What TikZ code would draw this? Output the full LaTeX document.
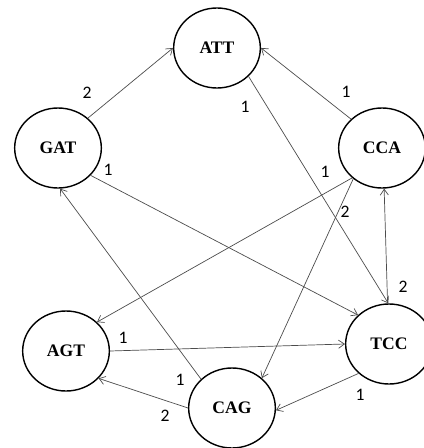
\documentclass[tikz,border=0pt]{standalone}
\usepackage{fontspec}
\setmainfont{Liberation Serif}
\newfontfamily\wtfont{Carlito}
\usetikzlibrary{shapes.geometric,arrows.meta}
\begin{document}
\begin{tikzpicture}[x=0.03cm,y=-0.03cm,
  seq/.style={draw,ellipse,line width=1.2pt,minimum width=2.6cm,minimum height=2.4cm,inner sep=0pt,font=\fontsize{15}{15}\selectfont\bfseries},
  link/.style={-{Straight Barb[length=5pt,width=7pt]},draw=black!70,line width=0.6pt},
  wt/.style={font=\wtfont\fontsize{15}{15}\selectfont,inner sep=0pt}]
\useasboundingbox (0,0) rectangle (424,448);

\node[seq] (ATT) at (217,48) {ATT};
\node[seq] (GAT) at (58,148) {GAT};
\node[seq] (CCA) at (382,148) {CCA};
\node[seq] (AGT) at (66,351) {AGT};
\node[seq] (TCC) at (389,344) {TCC};
\node[seq] (CAG) at (232,408) {CAG};

\draw[link] (GAT.45) -- (ATT.180) node[wt] at (87,93) {2};
\draw[link] (CCA.137) -- (ATT.0) node[wt] at (346,92) {1};
\draw[link] (ATT.-42) -- (TCC.91) node[wt] at (245,107) {1};
\draw[link] (GAT.-40) -- (TCC.137) node[wt] at (108,170) {1};
\draw[link] (CCA.-135) -- (AGT.43) node[wt] at (325,172) {1};
\draw[link] (CCA.-133) -- (CAG.45) node[wt] at (345,212) {2};
\draw[link] (TCC.92) -- (CCA.-87) node[wt] at (403,287) {2};
\draw[link] (CAG.137) -- (GAT.-87) node[wt] at (180,380) {1};
\draw[link] (AGT.0) -- (TCC.180) node[wt] at (123,338) {1};
\draw[link] (CAG.180) -- (AGT.-40) node[wt] at (165,416) {2};
\draw[link] (TCC.-136) -- (CAG.-3) node[wt] at (360,395) {1};

\end{tikzpicture}
\end{document}
